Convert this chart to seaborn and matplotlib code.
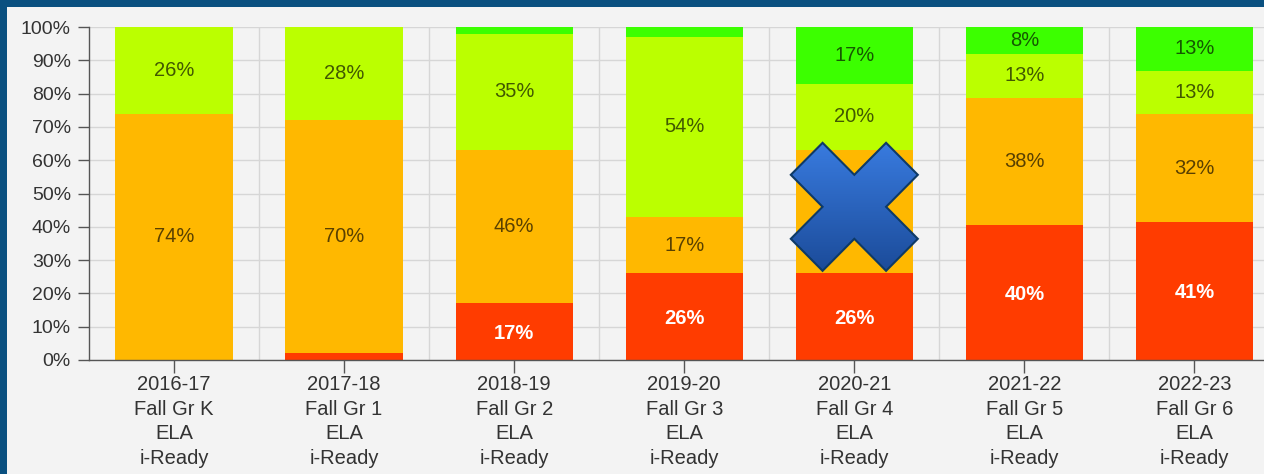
import numpy as np
import matplotlib
matplotlib.use("Agg")
import matplotlib.pyplot as plt
import seaborn as sns
from matplotlib.markers import MarkerStyle
from matplotlib.patches import PathPatch, Rectangle
from matplotlib.transforms import Affine2D, ScaledTranslation
from matplotlib.colors import LinearSegmentedColormap

# ---- data ----
years = ["2016-17", "2017-18", "2018-19", "2019-20", "2020-21", "2021-22", "2022-23"]
grades = ["Fall Gr K", "Fall Gr 1", "Fall Gr 2", "Fall Gr 3", "Fall Gr 4", "Fall Gr 5", "Fall Gr 6"]
red = [0, 2, 17, 26, 26, 40, 41]
orange = [74, 70, 46, 17, 37, 38, 32]
yellow_green = [26, 28, 35, 54, 20, 13, 13]
green = [0, 0, 2, 3, 17, 8, 13]
crossed_out = "2020-21"

labels = [f"{y}\n{g}\nELA\ni-Ready" for y, g in zip(years, grades)]
colors = ["#ff3c00", "#ffb800", "#bbff00", "#3cff00"]

sns.set_style("white")
plt.rcParams["font.family"] = ["Liberation Sans", "DejaVu Sans"]

fig = plt.figure(figsize=(12.64, 4.74), dpi=100)
fig.patch.set_facecolor("#0a5080")
fig.patches.append(Rectangle((7 / 1264, 0), 1, 1 - 7 / 474, transform=fig.transFigure,
                             facecolor="#f3f3f3", edgecolor="none", zorder=-10))
ax = fig.add_axes([89 / 1264, 114 / 474, 1190.5 / 1264, 333 / 474])
ax.set_facecolor("#f3f3f3")

# 100% stacked: normalise each bar, keep the rounded numbers as labels
series = np.array([red, orange, yellow_green, green], dtype=float)
shares = series / series.sum(axis=0) * 100
cum = np.cumsum(shares, axis=0)

# draw from the top (largest cumulative) down so each layer covers the next
for i in range(3, -1, -1):
    sns.barplot(x=years, y=cum[i], color=colors[i], saturation=1, width=0.69,
                order=years, ax=ax, linewidth=0, zorder=2)

for j in range(len(years)):
    for i in range(4):
        v = series[i, j]
        if v < 5:
            continue
        yc = cum[i, j] - shares[i, j] / 2
        if i == 0:
            ax.text(j, yc - 0.5, f"{int(v)}%", ha="center", va="center", fontsize=14.5,
                    fontweight="bold", color="white", zorder=4)
        else:
            ax.text(j, yc, f"{int(v)}%", ha="center", va="center", fontsize=14.5,
                    color="black", alpha=0.65, zorder=4)

ax.set_xlim(-0.5, 6.5)
ax.set_ylim(0, 100)
ax.set_yticks(range(0, 101, 10))
ax.set_yticklabels([f"{t}%" for t in range(0, 101, 10)], fontsize=14, color="#333333")
ax.set_xticks(range(len(years)))
ax.set_xticklabels(labels, fontsize=14.5, color="#333333", linespacing=1.37)
ax.set_xticks(np.arange(len(years)) + 0.5, minor=True)
ax.set_xlabel("")
ax.set_ylabel("")

ax.set_axisbelow(True)
ax.grid(axis="y", which="major", color="#d6d6d6", linewidth=1)
ax.grid(axis="x", which="minor", color="#d6d6d6", linewidth=1)
ax.tick_params(axis="x", which="minor", length=0)
ax.tick_params(axis="y", which="major", length=8, width=1, color="#555555", pad=5, direction="out", left=True)
ax.tick_params(axis="x", which="major", length=9, width=1, color="#555555", pad=2, direction="out", bottom=True)
for s in ["top", "right"]:
    ax.spines[s].set_visible(False)
for s in ["left", "bottom"]:
    ax.spines[s].set_color("#555555")
    ax.spines[s].set_linewidth(1)

# blue "X" overlay on the 2020-21 bar, gradient filled
xi = years.index(crossed_out)
ms = MarkerStyle("X")
xpath = ms.get_path().transformed(ms.get_transform())
trans = Affine2D().scale(127, -128) + ScaledTranslation(xi, 46, ax.transData)
outline = PathPatch(xpath, transform=trans, facecolor="none", edgecolor="#0e3a66",
                    linewidth=1.5, zorder=7)
ax.add_patch(outline)
cmap = LinearSegmentedColormap.from_list("xgrad", ["#3a7de2", "#1a4996"])
im = ax.imshow(np.linspace(0, 1, 256).reshape(-1, 1), cmap=cmap, aspect="auto",
               extent=[xi - 0.4, xi + 0.4, 25, 67], zorder=6)
im.set_clip_path(outline)
ax.set_xlim(-0.5, 6.5)
ax.set_ylim(0, 100)

fig.savefig("out.png", dpi=100, facecolor=fig.get_facecolor())
